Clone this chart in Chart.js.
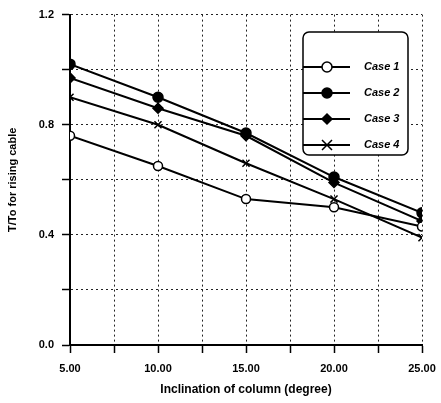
<!DOCTYPE html>
<html lang="en">
<head>
  <meta charset="UTF-8" />
  <title>T/To for rising cable</title>
  <script src="https://cdn.jsdelivr.net/npm/chart.js"></script>
  <style>
    body {
      margin: 0;
      background: #fff;
    }
    #box {
      width: 441px;
      height: 403px;
    }
  </style>
</head>
<body>
  <div id="box">
    <canvas id="grafico"></canvas>
  </div>

  <script>
    const inclinaciones = [5, 10, 15, 20, 25];
    const caso1 = [0.76, 0.65, 0.53, 0.50, 0.43];
    const caso2 = [1.02, 0.90, 0.77, 0.61, 0.48];
    const caso3 = [0.97, 0.86, 0.76, 0.59, 0.45];
    const caso4 = [0.90, 0.80, 0.66, 0.53, 0.39];
    const etiquetasCaso = ['Case 1', 'Case 2', 'Case 3', 'Case 4'];
    const ticksY = [0, 0.4, 0.8, 1.2];
    const ticksX = [5, 10, 15, 20, 25];

    const fuente = 'Liberation Sans, Arial, sans-serif';

    function serie(nombre, valores, estilo, relleno, radio) {
      return {
        label: nombre,
        data: inclinaciones.map((x, i) => ({ x: x, y: valores[i] })),
        borderColor: '#000',
        borderWidth: 2,
        pointStyle: estilo,
        pointRadius: radio,
        pointBorderWidth: 1.5,
        pointBorderColor: '#000',
        pointBackgroundColor: relleno ? '#000' : '#fff',
        fill: false,
        tension: 0
      };
    }

    function marcador(ctx, estilo, relleno, x, y, r) {
      ctx.save();
      ctx.strokeStyle = '#000';
      ctx.fillStyle = relleno ? '#000' : '#fff';
      ctx.lineWidth = 1.5;
      ctx.beginPath();
      if (estilo === 'circle') {
        ctx.arc(x, y, r, 0, Math.PI * 2);
        ctx.fill();
        ctx.stroke();
      } else if (estilo === 'rectRot') {
        ctx.moveTo(x, y - r);
        ctx.lineTo(x + r, y);
        ctx.lineTo(x, y + r);
        ctx.lineTo(x - r, y);
        ctx.closePath();
        ctx.fill();
        ctx.stroke();
      } else {
        ctx.moveTo(x - r, y - r);
        ctx.lineTo(x + r, y + r);
        ctx.moveTo(x + r, y - r);
        ctx.lineTo(x - r, y + r);
        ctx.stroke();
      }
      ctx.restore();
    }

    // leyenda dibujada dentro del area del grafico
    const leyendaCaja = {
      id: 'leyendaCaja',
      afterDraw(chart) {
        const ctx = chart.ctx;
        const x0 = 303, y0 = 32, w = 105, h = 123;
        ctx.save();
        ctx.fillStyle = '#fff';
        ctx.strokeStyle = '#000';
        ctx.lineWidth = 1.5;
        ctx.beginPath();
        ctx.roundRect(x0, y0, w, h, 6);
        ctx.fill();
        ctx.stroke();
        chart.data.datasets.forEach((ds, i) => {
          const y = 67 + i * 26;
          ctx.strokeStyle = '#000';
          ctx.lineWidth = 2;
          ctx.beginPath();
          ctx.moveTo(x0, y);
          ctx.lineTo(350, y);
          ctx.stroke();
          marcador(ctx, ds.pointStyle, ds.pointBackgroundColor === '#000', 327, y, 5);
          ctx.fillStyle = '#000';
          ctx.font = 'italic bold 11px ' + fuente;
          ctx.textBaseline = 'middle';
          ctx.fillText(ds.label, 364, y);
        });
        ctx.restore();
      }
    };

    const fondo = {
      id: 'fondo',
      beforeDraw(chart) {
        const ctx = chart.ctx;
        ctx.save();
        ctx.fillStyle = '#fff';
        ctx.fillRect(0, 0, chart.width, chart.height);
        ctx.restore();
      }
    };

    new Chart(document.getElementById('grafico').getContext('2d'), {
      type: 'line',
      data: {
        datasets: [
          serie(etiquetasCaso[0], caso1, 'circle', false, 4.5),
          serie(etiquetasCaso[1], caso2, 'circle', true, 5),
          serie(etiquetasCaso[2], caso3, 'rectRot', true, 5),
          serie(etiquetasCaso[3], caso4, 'crossRot', false, 5)
        ]
      },
      options: {
        responsive: true,
        maintainAspectRatio: false,
        animation: false,
        layout: { padding: { top: 14, right: 19, bottom: 4, left: 0 } },
        plugins: {
          legend: { display: false },
          tooltip: { enabled: false }
        },
        scales: {
          x: {
            type: 'linear',
            min: 5,
            max: 25,
            afterFit: (s) => {
              s.height = 54;
              s.paddingRight = 0;
              s.paddingLeft = 0;
            },
            afterBuildTicks: (s) => {
              const t = [];
              for (let v = 5; v <= 25; v += 2.5) t.push({ value: v });
              s.ticks = t;
            },
            ticks: {
              color: '#000',
              font: { family: fuente, size: 11, weight: 'bold' },
              padding: 9,
              maxRotation: 0,
              autoSkip: false,
              callback: (v) => ticksX.includes(v) ? v.toFixed(2) : ''
            },
            grid: {
              color: '#222',
              lineWidth: 1,
              tickColor: '#000',
              tickLength: 8,
              tickWidth: 1.5
            },
            border: { display: true, color: '#000', width: 2, dash: [2, 3] },
            title: {
              display: true,
              text: 'Inclination of column (degree)',
              color: '#000',
              font: { family: fuente, size: 12, weight: 'bold' },
              padding: { top: 0, bottom: 2 }
            }
          },
          y: {
            min: 0,
            max: 1.2,
            afterFit: (s) => { s.width = 70; },
            afterBuildTicks: (s) => {
              const t = [];
              for (let i = 0; i <= 6; i++) t.push({ value: Math.round(i * 0.2 * 10) / 10 });
              s.ticks = t;
            },
            ticks: {
              color: '#000',
              font: { family: fuente, size: 11, weight: 'bold' },
              padding: 8,
              autoSkip: false,
              callback: (v) => ticksY.includes(v) ? v.toFixed(1) : ''
            },
            grid: {
              color: '#222',
              lineWidth: 1,
              tickColor: '#000',
              tickLength: 8,
              tickWidth: 1.5
            },
            border: { display: true, color: '#000', width: 2, dash: [2, 3] },
            title: {
              display: true,
              text: 'T/To for rising cable',
              color: '#000',
              font: { family: fuente, size: 11, weight: 'bold' },
              padding: { top: 6, bottom: 0 }
            }
          }
        }
      },
      plugins: [fondo, leyendaCaja]
    });
  </script>
</body>
</html>
